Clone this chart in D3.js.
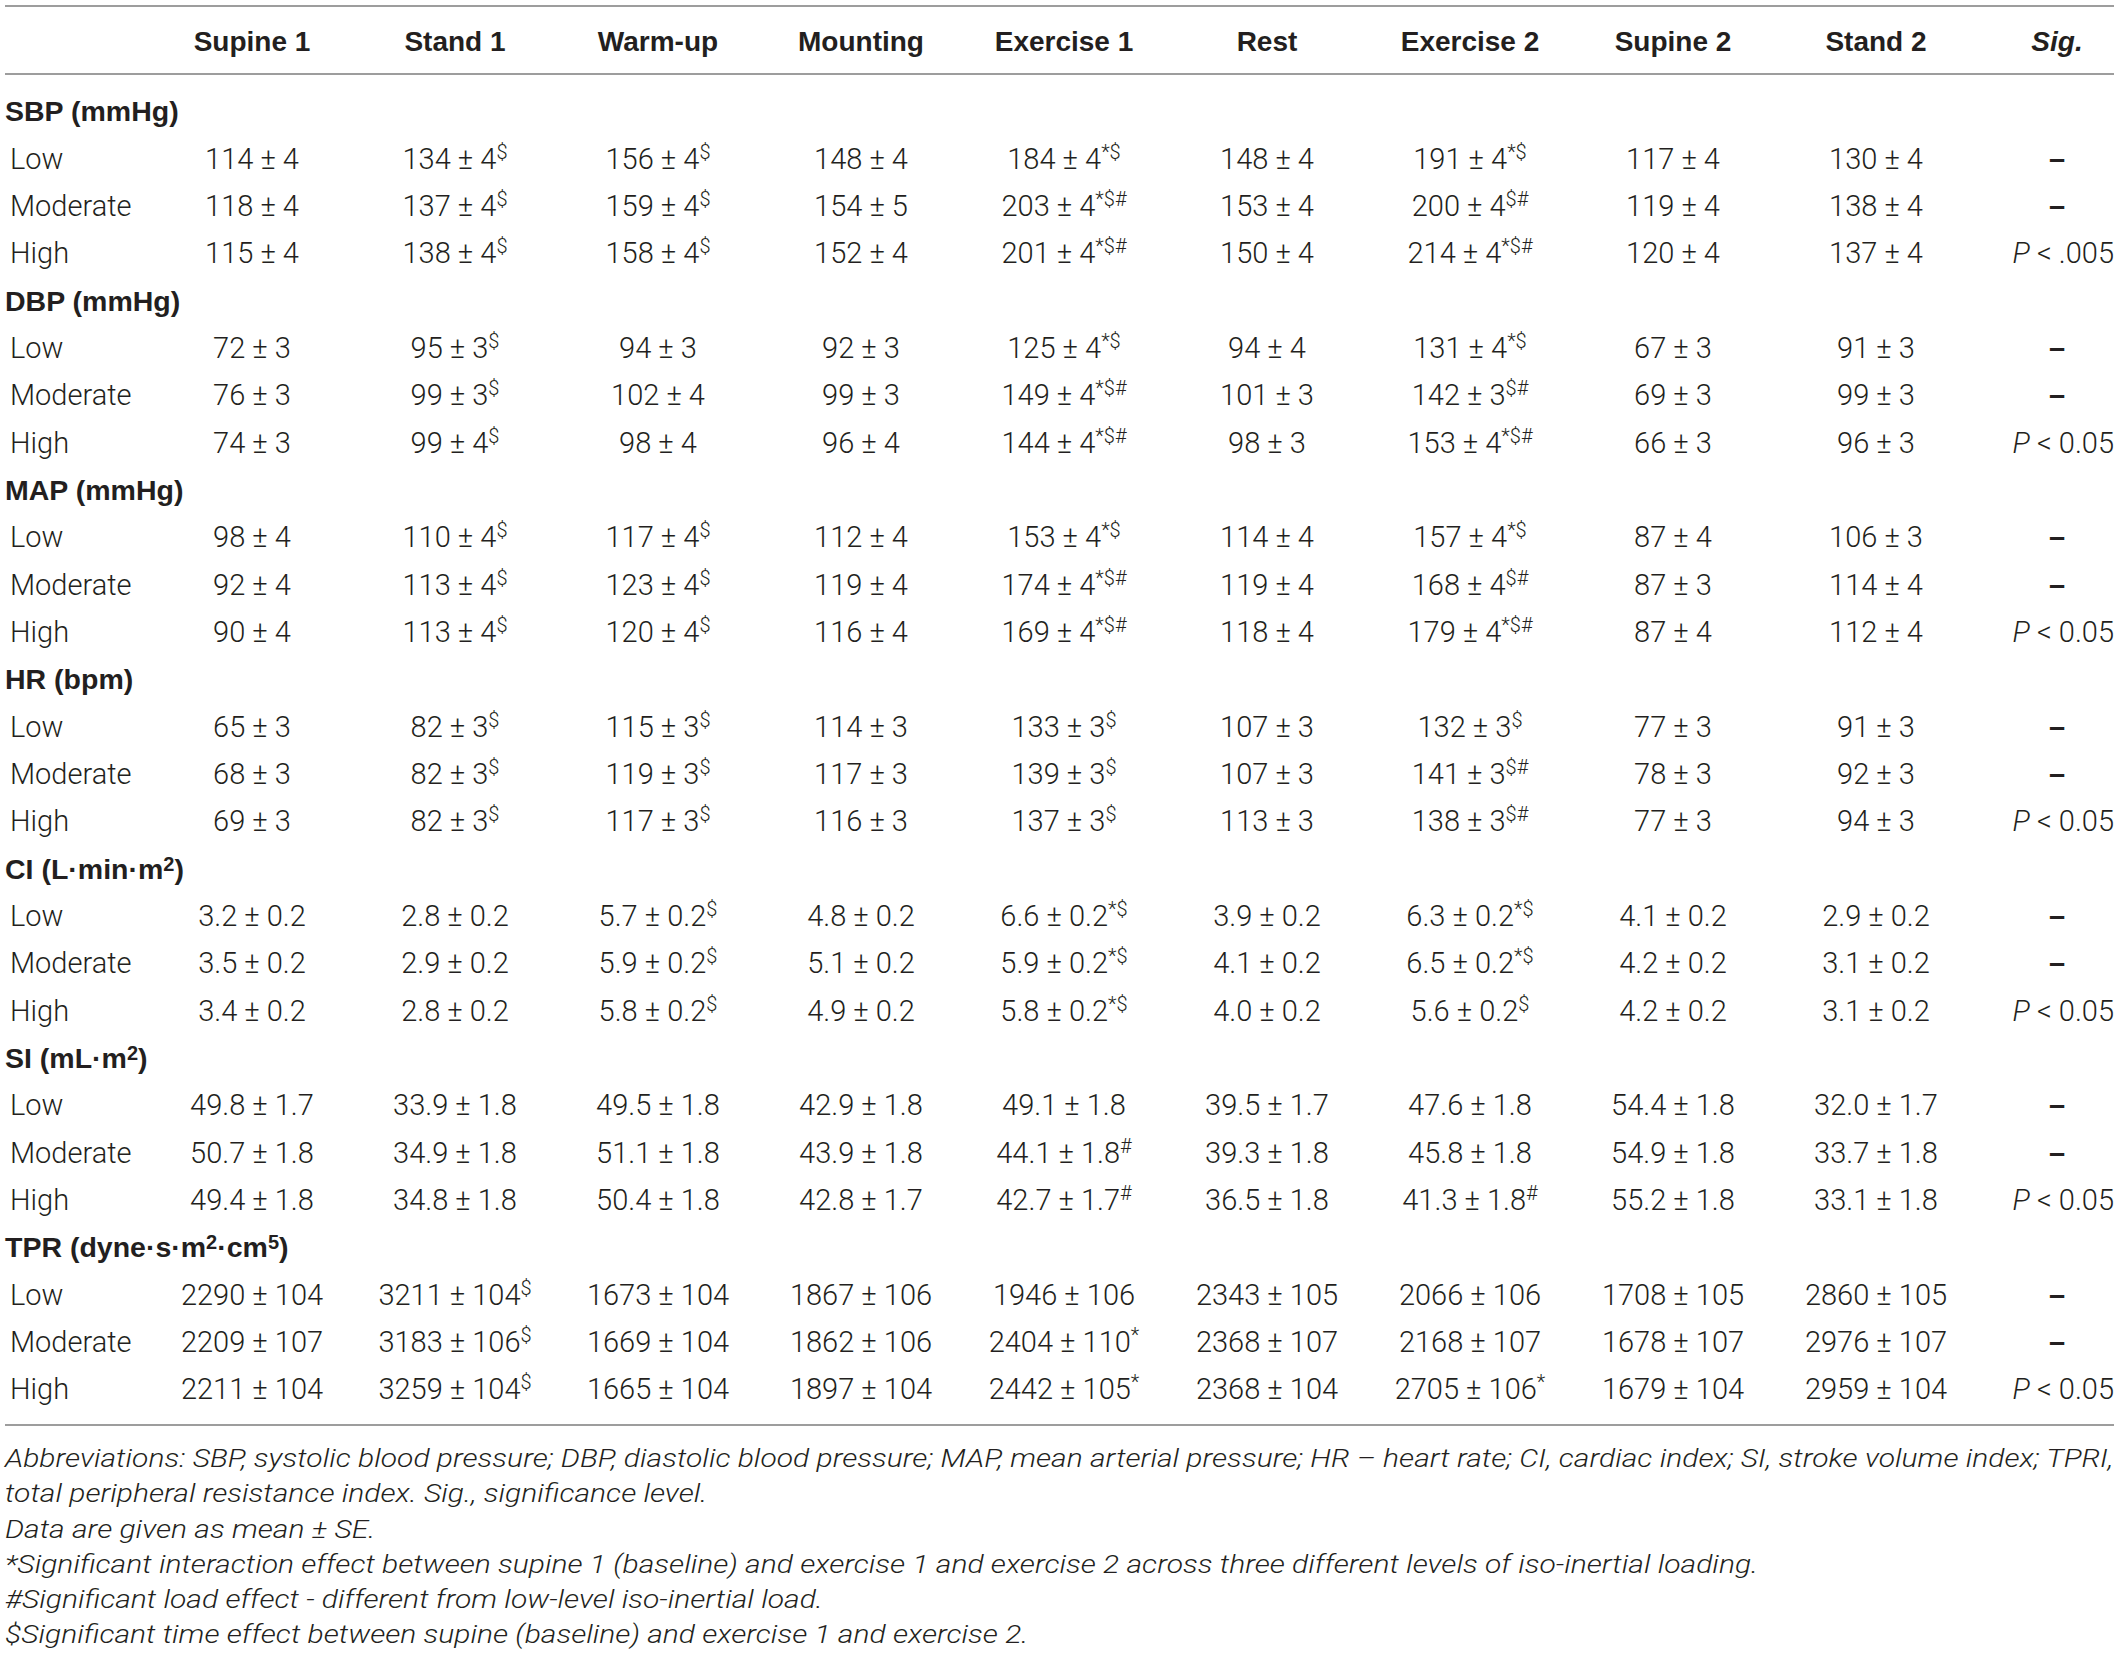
<!DOCTYPE html>
<html>
<head>
<meta charset="utf-8">
<script src="https://cdn.jsdelivr.net/npm/d3@7"></script>
<style>
  body { margin: 0; background: #fff; }
  svg text { fill: #231f20; }
</style>
</head>
<body>
<svg id="chart"></svg>
<script>
"use strict";

const timePoints = ["Supine 1", "Stand 1", "Warm-up", "Mounting", "Exercise 1", "Rest", "Exercise 2", "Supine 2", "Stand 2"];
const loadLevels = ["Low", "Moderate", "High"];
// "^" toggles superscript
const varLabels = ["SBP (mmHg)", "DBP (mmHg)", "MAP (mmHg)", "HR (bpm)", "CI (L·min·m^2^)", "SI (mL·m^2^)", "TPR (dyne·s·m^2^·cm^5^)"];
const varDecimals = [0, 0, 0, 0, 1, 1, 0];

const sbpMean = [[114, 134, 156, 148, 184, 148, 191, 117, 130], [118, 137, 159, 154, 203, 153, 200, 119, 138], [115, 138, 158, 152, 201, 150, 214, 120, 137]];
const sbpSE   = [[4, 4, 4, 4, 4, 4, 4, 4, 4], [4, 4, 4, 5, 4, 4, 4, 4, 4], [4, 4, 4, 4, 4, 4, 4, 4, 4]];
const sbpMark = [["", "$", "$", "", "*$", "", "*$", "", ""], ["", "$", "$", "", "*$#", "", "$#", "", ""], ["", "$", "$", "", "*$#", "", "*$#", "", ""]];

const dbpMean = [[72, 95, 94, 92, 125, 94, 131, 67, 91], [76, 99, 102, 99, 149, 101, 142, 69, 99], [74, 99, 98, 96, 144, 98, 153, 66, 96]];
const dbpSE   = [[3, 3, 3, 3, 4, 4, 4, 3, 3], [3, 3, 4, 3, 4, 3, 3, 3, 3], [3, 4, 4, 4, 4, 3, 4, 3, 3]];
const dbpMark = [["", "$", "", "", "*$", "", "*$", "", ""], ["", "$", "", "", "*$#", "", "$#", "", ""], ["", "$", "", "", "*$#", "", "*$#", "", ""]];

const mapMean = [[98, 110, 117, 112, 153, 114, 157, 87, 106], [92, 113, 123, 119, 174, 119, 168, 87, 114], [90, 113, 120, 116, 169, 118, 179, 87, 112]];
const mapSE   = [[4, 4, 4, 4, 4, 4, 4, 4, 3], [4, 4, 4, 4, 4, 4, 4, 3, 4], [4, 4, 4, 4, 4, 4, 4, 4, 4]];
const mapMark = [["", "$", "$", "", "*$", "", "*$", "", ""], ["", "$", "$", "", "*$#", "", "$#", "", ""], ["", "$", "$", "", "*$#", "", "*$#", "", ""]];

const hrMean = [[65, 82, 115, 114, 133, 107, 132, 77, 91], [68, 82, 119, 117, 139, 107, 141, 78, 92], [69, 82, 117, 116, 137, 113, 138, 77, 94]];
const hrSE   = [[3, 3, 3, 3, 3, 3, 3, 3, 3], [3, 3, 3, 3, 3, 3, 3, 3, 3], [3, 3, 3, 3, 3, 3, 3, 3, 3]];
const hrMark = [["", "$", "$", "", "$", "", "$", "", ""], ["", "$", "$", "", "$", "", "$#", "", ""], ["", "$", "$", "", "$", "", "$#", "", ""]];

const ciMean = [[3.2, 2.8, 5.7, 4.8, 6.6, 3.9, 6.3, 4.1, 2.9], [3.5, 2.9, 5.9, 5.1, 5.9, 4.1, 6.5, 4.2, 3.1], [3.4, 2.8, 5.8, 4.9, 5.8, 4.0, 5.6, 4.2, 3.1]];
const ciSE   = [[0.2, 0.2, 0.2, 0.2, 0.2, 0.2, 0.2, 0.2, 0.2], [0.2, 0.2, 0.2, 0.2, 0.2, 0.2, 0.2, 0.2, 0.2], [0.2, 0.2, 0.2, 0.2, 0.2, 0.2, 0.2, 0.2, 0.2]];
const ciMark = [["", "", "$", "", "*$", "", "*$", "", ""], ["", "", "$", "", "*$", "", "*$", "", ""], ["", "", "$", "", "*$", "", "$", "", ""]];

const siMean = [[49.8, 33.9, 49.5, 42.9, 49.1, 39.5, 47.6, 54.4, 32.0], [50.7, 34.9, 51.1, 43.9, 44.1, 39.3, 45.8, 54.9, 33.7], [49.4, 34.8, 50.4, 42.8, 42.7, 36.5, 41.3, 55.2, 33.1]];
const siSE   = [[1.7, 1.8, 1.8, 1.8, 1.8, 1.7, 1.8, 1.8, 1.7], [1.8, 1.8, 1.8, 1.8, 1.8, 1.8, 1.8, 1.8, 1.8], [1.8, 1.8, 1.8, 1.7, 1.7, 1.8, 1.8, 1.8, 1.8]];
const siMark = [["", "", "", "", "", "", "", "", ""], ["", "", "", "", "#", "", "", "", ""], ["", "", "", "", "#", "", "#", "", ""]];

const tprMean = [[2290, 3211, 1673, 1867, 1946, 2343, 2066, 1708, 2860], [2209, 3183, 1669, 1862, 2404, 2368, 2168, 1678, 2976], [2211, 3259, 1665, 1897, 2442, 2368, 2705, 1679, 2959]];
const tprSE   = [[104, 104, 104, 106, 106, 105, 106, 105, 105], [107, 106, 104, 106, 110, 107, 107, 107, 107], [104, 104, 104, 104, 105, 104, 106, 104, 104]];
const tprMark = [["", "$", "", "", "", "", "", "", ""], ["", "$", "", "", "*", "", "", "", ""], ["", "$", "", "", "*", "", "*", "", ""]];

const sigLevels = [["–", "–", "P < .005"], ["–", "–", "P < 0.05"], ["–", "–", "P < 0.05"], ["–", "–", "P < 0.05"],
                   ["–", "–", "P < 0.05"], ["–", "–", "P < 0.05"], ["–", "–", "P < 0.05"]];

const footnotes = [
  "Abbreviations: SBP, systolic blood pressure; DBP, diastolic blood pressure; MAP, mean arterial pressure; HR – heart rate; CI, cardiac index; SI, stroke volume index; TPRI,",
  "total peripheral resistance index. Sig., significance level.",
  "Data are given as mean ± SE.",
  "*Significant interaction effect between supine 1 (baseline) and exercise 1 and exercise 2 across three different levels of iso-inertial loading.",
  "#Significant load effect - different from low-level iso-inertial load.",
  "$Significant time effect between supine (baseline) and exercise 1 and exercise 2."
];

// ---- layout ----
const W = 2121, H = 1661;
const left = 5, right = 2114;
const valueFont = "Roboto, 'Liberation Sans', sans-serif";
const boldFont = "'Liberation Sans', Arial, sans-serif";

const means = [sbpMean, dbpMean, mapMean, hrMean, ciMean, siMean, tprMean];
const ses = [sbpSE, dbpSE, mapSE, hrSE, ciSE, siSE, tprSE];
const marks = [sbpMark, dbpMark, mapMark, hrMark, ciMark, siMark, tprMark];

const svg = d3.select("#chart").attr("width", W).attr("height", H)
  .attr("viewBox", `0 0 ${W} ${H}`);

const x = d3.scalePoint().domain(timePoints).range([252, 1876]);
const sigX = 2057;
const nRows = varLabels.length * (loadLevels.length + 1);
const y = d3.scalePoint().domain(d3.range(nRows)).range([111, 1389]);

const rule = yy => svg.append("line")
  .attr("x1", left).attr("x2", right).attr("y1", yy).attr("y2", yy)
  .attr("stroke", "#9d9d9d").attr("stroke-width", 2.2);
rule(6);
rule(74);
rule(1425);

// write "a^b^c" as text with superscript tspans
const withSup = (sel, str, supSize, supShift) => {
  str.split("^").forEach((part, i) => {
    if (!part) return;
    const t = sel.append("tspan").text(part);
    if (i % 2 === 1) t.attr("font-size", supSize).attr("baseline-shift", supShift);
  });
};

// header
const head = svg.append("g").attr("font-family", boldFont).attr("font-weight", 700).attr("font-size", 28);
head.selectAll("text.col").data(timePoints).enter().append("text")
  .attr("class", "col")
  .attr("x", d => x(d)).attr("y", 41).attr("dy", "0.36em")
  .attr("text-anchor", "middle").text(d => d);
head.append("text").attr("x", sigX).attr("y", 41).attr("dy", "0.36em")
  .attr("text-anchor", "middle").attr("font-style", "italic").text("Sig.");

// body rows
const fmt = d => d3.format(`.${d}f`);
varLabels.forEach((label, v) => {
  const r0 = v * (loadLevels.length + 1);
  const gl = svg.append("text").attr("x", left).attr("y", y(r0)).attr("dy", "0.36em")
    .attr("font-family", boldFont).attr("font-weight", 700).attr("font-size", 28.5);
  withSup(gl, label, 20, "42%");

  loadLevels.forEach((lvl, l) => {
    const yy = y(r0 + l + 1);
    const row = svg.append("g").attr("font-family", valueFont).attr("font-weight", 300).attr("font-size", 29);
    row.append("text").attr("x", 10).attr("y", yy).attr("dy", "0.36em").text(lvl);

    const cells = timePoints.map((tp, t) => ({
      tp: tp,
      txt: `${fmt(varDecimals[v])(means[v][l][t])} ± ${fmt(varDecimals[v])(ses[v][l][t])}`,
      mk: marks[v][l][t]
    }));
    row.selectAll("text.cell").data(cells).enter().append("text")
      .attr("class", "cell")
      .attr("x", d => x(d.tp)).attr("y", yy).attr("dy", "0.36em")
      .attr("text-anchor", "middle")
      .each(function(d) {
        const s = d3.select(this);
        s.append("tspan").text(d.txt);
        if (d.mk) s.append("tspan").attr("font-size", 20).attr("baseline-shift", "48%").text(d.mk);
      });

    const sig = sigLevels[v][l];
    if (sig === "–") {
      row.append("text").attr("x", sigX).attr("y", yy).attr("dy", "0.36em")
        .attr("text-anchor", "middle").attr("font-family", boldFont).attr("font-weight", 700)
        .text("–");
    } else {
      const st = row.append("text").attr("x", right).attr("y", yy).attr("dy", "0.36em")
        .attr("text-anchor", "end");
      st.append("tspan").attr("font-style", "italic").text("P");
      st.append("tspan").text(sig.slice(1));
    }
  });
});

// footnotes, squeezed to the table width like the condensed original
const notes = svg.append("g")
  .attr("font-family", valueFont).attr("font-weight", 300).attr("font-style", "italic").attr("font-size", 25.5);
const noteText = notes.selectAll("text").data(footnotes).enter().append("text")
  .attr("x", 0).attr("y", (d, i) => 1458 + i * 35.2).attr("dy", "0.36em")
  .text(d => d);
const w0 = noteText.node().getComputedTextLength();
notes.attr("transform", `translate(${left},0) scale(${(right - left) / w0},1)`);
</script>
</body>
</html>
